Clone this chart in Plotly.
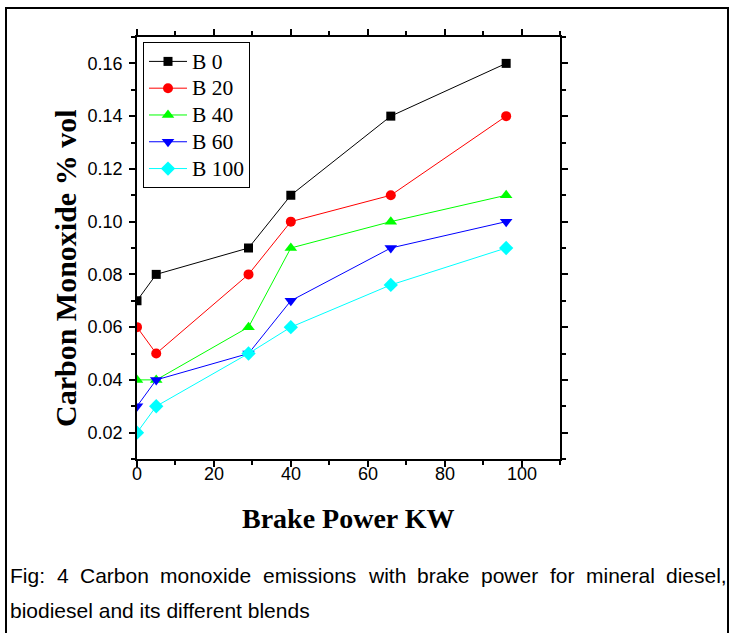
import plotly.graph_objects as go

# ---- data ----
brake_power = [0, 5, 29, 40, 66, 96]
b0 = [0.07, 0.08, 0.09, 0.11, 0.14, 0.16]
b20 = [0.06, 0.05, 0.08, 0.10, 0.11, 0.14]
b40 = [0.04, 0.04, 0.06, 0.09, 0.10, 0.11]
b60 = [0.03, 0.04, 0.05, 0.07, 0.09, 0.10]
b100 = [0.02, 0.03, 0.05, 0.06, 0.076, 0.09]
series_names = ["B 0", "B 20", "B 40", "B 60", "B 100"]
x_ticks = [0, 20, 40, 60, 80, 100]
y_ticks = [0.02, 0.04, 0.06, 0.08, 0.10, 0.12, 0.14, 0.16]
x_title = "Brake Power KW"
y_title = "Carbon Monoxide % vol"
caption_line1 = "Fig: 4 Carbon monoxide emissions with brake power for mineral diesel,"
caption_line2 = "biodiesel and its different blends"

W, H = 734, 633
L, R, T, B = 137, 560, 37, 459
pw, ph = R - L, B - T


def px(x):
    return (x - L) / pw


def py(y):
    return (B - y) / ph


styles = [
    ("#000000", "square", 9),
    ("#FF0000", "circle", 10),
    ("#00FF00", "triangle-up", 11),
    ("#0000FF", "triangle-down", 11),
    ("#00FFFF", "diamond", 11),
]

fig = go.Figure()
for name, ys, (c, sym, sz) in zip(series_names, [b0, b20, b40, b60, b100], styles):
    fig.add_trace(go.Scatter(
        x=brake_power, y=ys,
        name="<span style='font-size:21.5px'>%s</span>" % name,
        mode="lines+markers",
        line=dict(color=c, width=1),
        marker=dict(color=c, symbol=sym, size=sz, line=dict(width=0)),
    ))

axis_common = dict(
    showline=True, linecolor="black", linewidth=1.5, mirror="ticks",
    ticks="outside", ticklen=6, tickwidth=1.5, tickcolor="black",
    showgrid=False, zeroline=False,
    tickfont=dict(family="Liberation Sans, Arial", size=18, color="black"),
)
tick_font = dict(family="Liberation Sans, Arial", size=18, color="black")

fig.update_layout(
    width=W, height=H,
    margin=dict(l=L, r=W - R, t=T, b=H - B, pad=0),
    paper_bgcolor="white", plot_bgcolor="white",
    showlegend=True,
    legend=dict(
        x=px(143), y=py(42), xanchor="left", yanchor="top",
        bordercolor="black", borderwidth=1, bgcolor="white",
        font=dict(family="Liberation Serif, Times New Roman", size=18.3, color="black"),
        tracegroupgap=0, itemwidth=38,
    ),
    xaxis=dict(range=[0, 110], tickvals=x_ticks, showticklabels=False,
               minor=dict(dtick=10, tick0=0, ticks="outside", ticklen=4, tickcolor="black", tickwidth=1.5),
               **axis_common),
    yaxis=dict(range=[0.01, 0.17], tickvals=y_ticks,
               tickformat=".2f", ticklabelstandoff=3,
               minor=dict(dtick=0.01, tick0=0.01, ticks="outside", ticklen=4, tickcolor="black", tickwidth=1.5),
               **axis_common),
)

# x tick labels placed via the x data scale
for v in x_ticks:
    fig.add_annotation(x=v, y=py(474), xref="x", yref="paper", text=str(v),
                       showarrow=False, xanchor="center", yanchor="middle", font=tick_font)

# axis titles
fig.add_annotation(x=px(348), y=py(518), xref="paper", yref="paper", text="<b>%s</b>" % x_title,
                   showarrow=False, xanchor="center", yanchor="middle",
                   font=dict(family="Liberation Serif, Times New Roman", size=28, color="black"))
fig.add_annotation(x=px(65), y=py(268), xref="paper", yref="paper", text="<b>%s</b>" % y_title,
                   showarrow=False, xanchor="center", yanchor="middle", textangle=-90,
                   font=dict(family="Liberation Serif, Times New Roman", size=30, color="black"))

# outer frame
fig.add_shape(type="rect", xref="paper", yref="paper",
              x0=px(6), x1=px(728), y0=py(645), y1=py(8),
              line=dict(color="black", width=2), fillcolor="rgba(0,0,0,0)", layer="below")

# justified caption line 1 (Arial metrics, units/1000)
aw = {'a': 556, 'b': 556, 'c': 500, 'd': 556, 'e': 556, 'f': 278, 'g': 556, 'h': 556, 'i': 222,
      'j': 222, 'k': 500, 'l': 222, 'm': 833, 'n': 556, 'o': 556, 'p': 556, 'q': 556, 'r': 333,
      's': 500, 't': 278, 'u': 556, 'v': 500, 'w': 722, 'x': 500, 'y': 500, 'z': 500, 'F': 611,
      'C': 722, ':': 278, ',': 278, '4': 556}
fs = 21
cap_font = dict(family="Liberation Sans, Arial", size=fs, color="black")
words = caption_line1.split(" ")
widths = [sum(aw.get(ch, 556) for ch in wd) * fs / 1000 for wd in words]
x_start, x_end = 8, 725
gap = (x_end - x_start - sum(widths)) / (len(words) - 1)
xc = x_start
for wd, wdt in zip(words, widths):
    fig.add_annotation(x=px(xc), y=py(575), xref="paper", yref="paper", text=wd,
                       showarrow=False, xanchor="left", yanchor="middle", font=cap_font)
    xc += wdt + gap
fig.add_annotation(x=px(8), y=py(610), xref="paper", yref="paper", text=caption_line2,
                   showarrow=False, xanchor="left", yanchor="middle", font=cap_font)

fig.write_html("out.html")
